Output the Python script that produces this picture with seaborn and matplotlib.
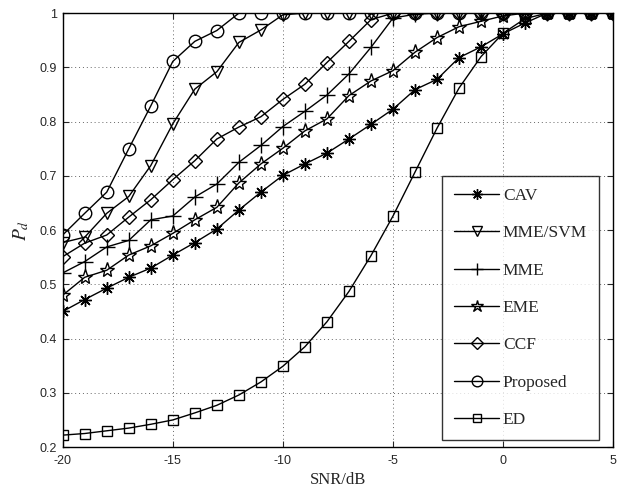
import numpy as np
import pandas as pd
import matplotlib
matplotlib.use("Agg")
import matplotlib.pyplot as plt
import seaborn as sns

snr = list(range(-20, 6))

cav = [0.450, 0.472, 0.493, 0.513, 0.530, 0.554, 0.577, 0.602, 0.637, 0.670,
       0.701, 0.722, 0.742, 0.768, 0.795, 0.823, 0.859, 0.878, 0.918, 0.938,
       0.962, 0.982, 1.0, 1.0, 1.0, 1.0]
mme_svm = [0.577, 0.587, 0.631, 0.662, 0.719, 0.796, 0.860, 0.892, 0.946, 0.969,
           0.997, 1.0, 1.0, 1.0, 1.0, 1.0, 1.0, 1.0, 1.0, 1.0,
           1.0, 1.0, 1.0, 1.0, 1.0, 1.0]
mme = [0.521, 0.542, 0.569, 0.581, 0.619, 0.626, 0.661, 0.685, 0.725, 0.756,
       0.791, 0.819, 0.849, 0.888, 0.937, 0.991, 0.998, 1.0, 1.0, 1.0,
       1.0, 1.0, 1.0, 1.0, 1.0, 1.0]
eme = [0.480, 0.513, 0.526, 0.554, 0.571, 0.594, 0.619, 0.642, 0.687, 0.722,
       0.751, 0.783, 0.805, 0.848, 0.875, 0.894, 0.928, 0.955, 0.975, 0.985,
       0.995, 1.0, 1.0, 1.0, 1.0, 1.0]
ccf = [0.551, 0.576, 0.591, 0.624, 0.656, 0.693, 0.728, 0.768, 0.790, 0.809,
       0.841, 0.869, 0.909, 0.948, 0.988, 1.0, 1.0, 1.0, 1.0, 1.0,
       1.0, 1.0, 1.0, 1.0, 1.0, 1.0]
proposed = [0.591, 0.631, 0.670, 0.750, 0.829, 0.911, 0.948, 0.968, 1.0, 1.0,
            1.0, 1.0, 1.0, 1.0, 1.0, 1.0, 1.0, 1.0, 1.0, 1.0,
            1.0, 1.0, 1.0, 1.0, 1.0, 1.0]
ed = [0.222, 0.225, 0.230, 0.235, 0.242, 0.250, 0.263, 0.277, 0.296, 0.320,
      0.349, 0.385, 0.431, 0.487, 0.553, 0.626, 0.707, 0.788, 0.862, 0.920,
      0.963, 0.990, 1.0, 1.0, 1.0, 1.0]

labels = ["CAV", "MME/SVM", "MME", "EME", "CCF", "Proposed", "ED"]
series = [cav, mme_svm, mme, eme, ccf, proposed, ed]
markers = [(8, 2, 0), "v", "+", "*", "D", "o", "s"]
msizes = [9, 9, 11, 11, 7.5, 9, 7.5]

yticks = [0.2, 0.3, 0.4, 0.5, 0.6, 0.7, 0.8, 0.9, 1.0]
yticklabels = ["0.2", "0.3", "0.4", "0.5", "0.6", "0.7", "0.8", "0.9", "1"]
xticks = [-20, -15, -10, -5, 0, 5]

sns.set_style("white")
plt.rcParams["font.family"] = ["Liberation Sans", "DejaVu Sans"]
plt.rcParams["mathtext.fontset"] = "stix"

fig = plt.figure(figsize=(6.27, 4.87), dpi=100)
ax = fig.add_axes([0.100, 0.082, 0.878, 0.891])

for lab, vals, mk, ms in zip(labels, series, markers, msizes):
    df = pd.DataFrame({"SNR": snr, "Pd": vals})
    sns.lineplot(data=df, x="SNR", y="Pd", ax=ax, color="black", lw=1.0,
                 marker=mk, markersize=ms, markerfacecolor="none",
                 markeredgecolor="black", markeredgewidth=1.0, label=lab)

ax.set_xlim(-20, 5)
ax.set_ylim(0.2, 1.0)
ax.set_xticks(xticks)
ax.set_xticklabels([str(t) for t in xticks])
ax.set_yticks(yticks)
ax.set_yticklabels(yticklabels)
ax.tick_params(direction="in", length=4, width=0.8, labelsize=9,
               top=True, right=True, bottom=True, left=True, pad=4)
ax.tick_params(axis="x", pad=6)
ax.grid(True, linestyle=(0, (1, 3)), color="#666666", linewidth=0.7)
for sp in ax.spines.values():
    sp.set_color("black")
    sp.set_linewidth(1.0)

ax.set_xlabel("SNR/dB", family=["Liberation Serif"], fontsize=12, labelpad=3)
ax.set_ylabel("$P_d$", fontsize=14, labelpad=6)

leg = ax.legend(loc="lower right", bbox_to_anchor=(0.9745, 0.016),
                prop={"family": "Liberation Serif", "size": 12.5},
                frameon=True, fancybox=False, edgecolor="black",
                labelspacing=1.22, handlelength=2.6, borderpad=0.7,
                handletextpad=0.2, borderaxespad=0, markerscale=0.85)
leg.get_frame().set_linewidth(1.0)

fig.savefig("out.png", dpi=100)
